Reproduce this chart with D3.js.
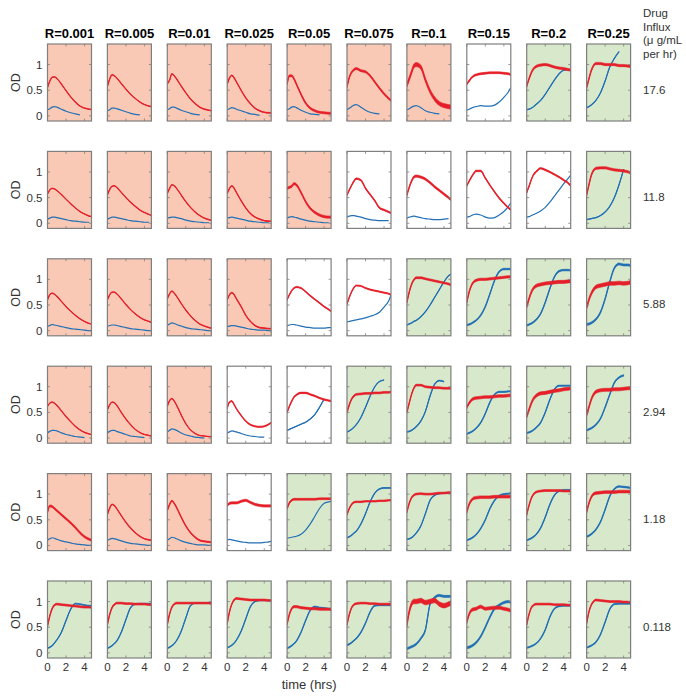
<!DOCTYPE html>
<html>
<head>
<meta charset="utf-8">
<script src="https://cdn.jsdelivr.net/npm/d3@7"></script>
<style>
  html, body { margin: 0; padding: 0; background: #fff; }
  svg { display: block; font-family: "Liberation Sans", Arial, sans-serif; }
</style>
</head>
<body>
<svg id="chart" width="686" height="696"></svg>
<script>
// ---------------- DATA ----------------
const rateLabels = ["R=0.001","R=0.005","R=0.01","R=0.025","R=0.05","R=0.075","R=0.1","R=0.15","R=0.2","R=0.25"];
const influxLabels = ["17.6","11.8","5.88","2.94","1.18","0.118"];
const influxTitle = ["Drug","Influx","(\u03bc g/mL","per hr)"];
const xTicks = [0, 2, 4];
const yTicks = [0, 0.5, 1];
const yTickLabels = ["0", "0.5", "1"];
const times = [0, 0.25, 0.5, 0.75, 1, 1.5, 2, 2.5, 3, 3.5, 4, 4.5, 4.75];
// outcome per panel: r = red shade, w = none, g = green shade
const outcome = ["rrrrrrrwgg", "rrrrrwwwwg", "rrrrwwgggg", "rrrwwggggg", "rrrwgggggg", "gggggggggg"];

const redOD = [
 [ // 17.6
  [0.55,0.68,0.75,0.76,0.73,0.62,0.49,0.37,0.27,0.19,0.15,0.13,0.12],
  [0.57,0.72,0.80,0.78,0.74,0.63,0.52,0.42,0.34,0.27,0.22,0.19,0.18],
  [0.62,0.70,0.82,0.78,0.72,0.58,0.45,0.33,0.24,0.17,0.13,0.11,0.10],
  [0.62,0.74,0.79,0.74,0.66,0.50,0.35,0.24,0.15,0.10,0.07,0.06,0.06],
  [0.62,0.78,0.78,0.72,0.62,0.42,0.25,0.15,0.10,0.07,0.06,0.05,0.05],
  [0.57,0.75,0.85,0.90,0.92,0.88,0.86,0.78,0.66,0.54,0.43,0.34,0.30],
  [0.60,0.72,0.85,0.97,1.00,0.95,0.70,0.48,0.33,0.24,0.20,0.18,0.17],
  [0.62,0.68,0.74,0.78,0.80,0.82,0.83,0.84,0.84,0.84,0.83,0.82,0.80],
  [0.58,0.72,0.84,0.92,0.96,0.99,1.00,0.98,0.95,0.93,0.92,0.90,0.89],
  [0.55,0.72,0.88,0.98,1.02,1.02,1.00,1.00,1.00,0.98,0.98,0.97,0.96]
 ],
 [ // 11.8
  [0.57,0.65,0.68,0.67,0.64,0.56,0.47,0.38,0.30,0.23,0.18,0.14,0.13],
  [0.55,0.66,0.72,0.73,0.70,0.60,0.50,0.41,0.33,0.26,0.21,0.17,0.15],
  [0.58,0.68,0.75,0.73,0.68,0.55,0.42,0.31,0.22,0.15,0.10,0.07,0.06],
  [0.58,0.68,0.73,0.68,0.60,0.44,0.30,0.19,0.12,0.08,0.05,0.04,0.04],
  [0.68,0.70,0.72,0.77,0.75,0.60,0.42,0.29,0.21,0.16,0.13,0.12,0.12],
  [0.55,0.65,0.74,0.82,0.87,0.84,0.68,0.56,0.44,0.30,0.26,0.22,0.20],
  [0.55,0.70,0.82,0.90,0.92,0.90,0.86,0.79,0.71,0.64,0.57,0.50,0.46],
  [0.73,0.82,0.90,0.97,1.02,1.02,0.88,0.74,0.61,0.49,0.39,0.30,0.26],
  [0.60,0.72,0.85,0.95,1.00,1.07,1.04,1.00,0.95,0.90,0.84,0.78,0.73],
  [0.55,0.75,0.93,1.03,1.07,1.08,1.08,1.06,1.04,1.03,1.02,1.00,0.98]
 ],
 [ // 5.88
  [0.60,0.70,0.73,0.71,0.67,0.57,0.47,0.38,0.30,0.23,0.18,0.14,0.13],
  [0.60,0.70,0.75,0.75,0.72,0.62,0.51,0.41,0.33,0.26,0.21,0.18,0.16],
  [0.62,0.72,0.77,0.73,0.67,0.53,0.40,0.29,0.20,0.13,0.09,0.06,0.05],
  [0.60,0.70,0.74,0.70,0.62,0.47,0.30,0.18,0.10,0.06,0.05,0.04,0.04],
  [0.60,0.70,0.78,0.83,0.85,0.83,0.76,0.68,0.61,0.54,0.47,0.41,0.38],
  [0.52,0.65,0.76,0.84,0.88,0.87,0.83,0.80,0.78,0.76,0.74,0.72,0.70],
  [0.55,0.75,0.90,0.99,1.03,1.03,1.01,0.99,0.97,0.95,0.93,0.91,0.89],
  [0.55,0.75,0.88,0.95,0.98,1.00,1.00,1.01,1.02,1.03,1.04,1.05,1.05],
  [0.47,0.62,0.75,0.83,0.87,0.90,0.92,0.93,0.94,0.95,0.95,0.96,0.96],
  [0.45,0.60,0.72,0.80,0.85,0.88,0.90,0.92,0.92,0.93,0.92,0.93,0.94]
 ],
 [ // 2.94
  [0.62,0.68,0.70,0.68,0.64,0.53,0.42,0.32,0.23,0.16,0.11,0.08,0.07],
  [0.55,0.65,0.70,0.69,0.64,0.50,0.37,0.26,0.17,0.11,0.07,0.05,0.04],
  [0.62,0.73,0.77,0.72,0.64,0.45,0.28,0.16,0.09,0.05,0.04,0.03,0.03],
  [0.58,0.70,0.72,0.65,0.57,0.44,0.33,0.26,0.23,0.22,0.23,0.27,0.30],
  [0.50,0.62,0.72,0.80,0.84,0.88,0.88,0.85,0.82,0.78,0.75,0.73,0.72],
  [0.50,0.65,0.76,0.82,0.85,0.86,0.87,0.87,0.88,0.88,0.89,0.89,0.90],
  [0.50,0.68,0.85,0.97,1.03,1.03,1.00,0.99,0.98,0.98,0.97,0.97,0.97],
  [0.60,0.68,0.74,0.77,0.78,0.79,0.80,0.80,0.81,0.82,0.82,0.83,0.83],
  [0.42,0.55,0.68,0.77,0.82,0.87,0.88,0.90,0.92,0.93,0.95,0.96,0.97],
  [0.45,0.60,0.75,0.85,0.90,0.93,0.94,0.94,0.95,0.95,0.96,0.97,0.97]
 ],
 [ // 1.18
  [0.65,0.77,0.76,0.72,0.68,0.60,0.52,0.44,0.35,0.25,0.17,0.12,0.10],
  [0.60,0.73,0.80,0.78,0.72,0.58,0.45,0.34,0.25,0.18,0.13,0.11,0.10],
  [0.68,0.80,0.87,0.82,0.74,0.55,0.38,0.25,0.16,0.10,0.08,0.07,0.06],
  [0.78,0.82,0.83,0.83,0.83,0.86,0.88,0.84,0.80,0.78,0.77,0.77,0.77],
  [0.72,0.83,0.88,0.90,0.90,0.90,0.90,0.90,0.90,0.91,0.91,0.91,0.91],
  [0.60,0.72,0.80,0.84,0.85,0.85,0.86,0.86,0.86,0.87,0.87,0.88,0.88],
  [0.65,0.82,0.93,0.98,1.00,1.01,1.00,1.00,1.01,1.02,1.02,1.03,1.03],
  [0.65,0.80,0.88,0.92,0.93,0.94,0.94,0.94,0.95,0.95,0.95,0.95,0.95],
  [0.60,0.78,0.92,1.00,1.04,1.06,1.07,1.07,1.07,1.07,1.06,1.06,1.06],
  [0.65,0.82,0.94,1.00,1.02,1.03,1.04,1.04,1.04,1.05,1.05,1.05,1.05]
 ],
 [ // 0.118
  [0.52,0.72,0.86,0.93,0.95,0.94,0.93,0.92,0.91,0.90,0.89,0.89,0.88],
  [0.55,0.75,0.88,0.94,0.97,0.97,0.96,0.96,0.95,0.95,0.95,0.94,0.94],
  [0.55,0.76,0.89,0.95,0.97,0.97,0.97,0.97,0.97,0.97,0.97,0.97,0.96],
  [0.57,0.80,0.95,1.03,1.06,1.05,1.04,1.03,1.03,1.03,1.03,1.02,1.02],
  [0.56,0.75,0.86,0.90,0.90,0.88,0.87,0.86,0.86,0.85,0.85,0.85,0.84],
  [0.55,0.75,0.88,0.94,0.96,0.97,0.97,0.96,0.96,0.95,0.95,0.95,0.95],
  [0.55,0.80,0.95,1.00,1.00,1.02,0.98,1.00,1.02,0.95,0.92,0.95,0.97],
  [0.60,0.75,0.83,0.85,0.86,0.90,0.86,0.87,0.88,0.88,0.86,0.84,0.82],
  [0.55,0.75,0.88,0.93,0.95,0.95,0.95,0.95,0.94,0.94,0.94,0.93,0.93],
  [0.57,0.80,0.93,1.00,1.03,1.02,1.01,1.00,1.00,1.00,0.99,0.99,0.99]
 ]
];

const blueOD = [
 [ // 17.6
  [0.12,0.14,0.17,0.18,0.17,0.13,0.09,0.06,0.04,0.02,null,null,null],
  [0.10,0.12,0.15,0.15,0.14,0.11,0.08,0.05,0.03,0.02,null,null,null],
  [0.12,0.14,0.17,0.17,0.15,0.11,0.08,0.05,0.03,0.02,null,null,null],
  [0.12,0.14,0.16,0.15,0.13,0.10,0.07,0.04,0.03,0.01,null,null,null],
  [0.12,0.14,0.17,0.18,0.16,0.11,0.07,0.04,0.03,0.02,null,null,null],
  [0.12,0.15,0.18,0.21,0.22,0.17,0.11,0.07,0.05,0.04,null,null,null],
  [0.12,0.14,0.17,0.19,0.20,0.16,0.10,0.07,0.05,0.04,null,null,null],
  [0.11,0.13,0.15,0.17,0.18,0.20,0.19,0.19,0.21,0.27,0.36,0.47,0.55],
  [0.12,0.13,0.15,0.18,0.22,0.30,0.42,0.56,0.70,0.82,0.89,0.90,0.89],
  [0.16,0.18,0.21,0.25,0.30,0.45,0.68,0.95,1.12,1.25,null,null,null]
 ],
 [ // 11.8
  [0.08,0.10,0.12,0.12,0.11,0.09,0.07,0.05,0.04,0.03,0.02,0.02,null],
  [0.08,0.10,0.12,0.12,0.11,0.09,0.07,0.05,0.04,0.03,0.02,0.02,null],
  [0.10,0.11,0.12,0.12,0.11,0.09,0.06,0.04,0.03,0.02,0.01,0.01,null],
  [0.10,0.11,0.12,0.11,0.10,0.08,0.06,0.04,0.03,0.02,0.01,0.01,null],
  [0.10,0.12,0.13,0.12,0.11,0.08,0.06,0.04,0.03,0.02,0.01,0.01,null],
  [0.12,0.14,0.15,0.15,0.14,0.12,0.09,0.07,0.06,0.05,0.05,0.05,null],
  [0.10,0.12,0.13,0.14,0.13,0.11,0.09,0.08,0.07,0.07,0.08,0.09,null],
  [0.12,0.13,0.15,0.17,0.18,0.16,0.12,0.10,0.11,0.16,0.23,0.33,0.40],
  [0.12,0.13,0.15,0.17,0.19,0.24,0.31,0.41,0.53,0.65,0.77,0.88,0.94],
  [0.07,0.08,0.09,0.10,0.11,0.15,0.22,0.33,0.50,0.75,1.05,null,null]
 ],
 [ // 5.88
  [0.08,0.10,0.12,0.11,0.10,0.08,0.06,0.04,0.03,0.02,0.01,0.00,0.00],
  [0.08,0.10,0.11,0.11,0.10,0.08,0.06,0.04,0.03,0.02,0.01,0.00,0.00],
  [0.10,0.13,0.15,0.14,0.12,0.09,0.06,0.04,0.03,0.02,0.01,0.00,0.00],
  [0.08,0.09,0.10,0.10,0.09,0.07,0.05,0.03,0.02,0.01,0.01,0.00,0.00],
  [0.09,0.11,0.12,0.12,0.11,0.09,0.07,0.06,0.05,0.05,0.05,0.06,0.06],
  [0.17,0.18,0.19,0.20,0.21,0.23,0.25,0.28,0.31,0.36,0.46,0.58,0.69],
  [0.11,0.13,0.15,0.18,0.20,0.27,0.37,0.50,0.65,0.80,0.95,1.07,1.10],
  [0.11,0.12,0.14,0.17,0.20,0.30,0.47,0.72,0.98,1.15,1.20,1.20,1.20],
  [0.10,0.12,0.14,0.17,0.21,0.33,0.55,0.82,1.05,1.16,1.18,1.18,1.17],
  [0.12,0.13,0.15,0.18,0.22,0.36,0.62,0.95,1.22,1.30,1.28,1.28,1.26]
 ],
 [ // 2.94
  [0.10,0.13,0.15,0.15,0.14,0.10,0.07,0.05,0.03,0.02,0.01,null,null],
  [0.10,0.13,0.15,0.15,0.13,0.10,0.07,0.04,0.03,0.02,0.01,null,null],
  [0.12,0.15,0.18,0.17,0.15,0.10,0.06,0.04,0.02,0.01,0.00,null,null],
  [0.10,0.12,0.14,0.13,0.12,0.09,0.06,0.04,0.03,0.02,0.02,null,null],
  [0.15,0.17,0.19,0.21,0.23,0.27,0.31,0.37,0.46,0.60,0.76,null,null],
  [0.12,0.14,0.17,0.21,0.26,0.40,0.60,0.82,1.00,1.10,1.13,null,null],
  [0.12,0.13,0.15,0.18,0.22,0.33,0.52,0.82,1.05,1.12,1.10,null,null],
  [0.08,0.10,0.12,0.15,0.19,0.30,0.48,0.70,0.85,0.90,0.90,0.91,0.91],
  [0.10,0.11,0.13,0.16,0.20,0.30,0.50,0.75,0.95,1.02,1.02,1.02,1.02],
  [0.15,0.17,0.19,0.22,0.26,0.38,0.60,0.85,1.08,1.18,1.22,null,null]
 ],
 [ // 1.18
  [0.10,0.13,0.15,0.14,0.12,0.09,0.07,0.05,0.03,0.02,0.01,0.00,0.00],
  [0.10,0.12,0.14,0.13,0.12,0.09,0.06,0.04,0.03,0.02,0.01,0.00,0.00],
  [0.10,0.13,0.16,0.15,0.13,0.09,0.06,0.04,0.02,0.01,0.01,0.00,0.00],
  [0.11,0.12,0.11,0.10,0.09,0.07,0.06,0.05,0.05,0.05,0.06,0.07,0.08],
  [0.14,0.15,0.16,0.17,0.18,0.22,0.30,0.42,0.57,0.72,0.82,0.85,0.86],
  [0.15,0.17,0.20,0.24,0.28,0.42,0.62,0.85,1.02,1.10,1.12,1.12,1.12],
  [0.12,0.13,0.15,0.19,0.24,0.38,0.62,0.88,0.98,1.01,1.02,1.03,1.03],
  [0.10,0.12,0.14,0.17,0.21,0.33,0.50,0.72,0.88,0.97,1.00,1.01,1.02],
  [0.10,0.12,0.14,0.17,0.21,0.34,0.55,0.80,0.98,1.06,1.08,1.08,1.08],
  [0.17,0.19,0.22,0.26,0.31,0.46,0.70,0.96,1.10,1.15,1.14,1.13,1.12]
 ],
 [ // 0.118
  [0.09,0.11,0.14,0.19,0.25,0.40,0.63,0.85,0.96,0.95,0.93,0.92,0.92],
  [0.09,0.11,0.14,0.18,0.23,0.40,0.65,0.88,0.95,0.96,0.96,0.96,0.96],
  [0.09,0.11,0.14,0.18,0.24,0.42,0.68,0.92,0.97,0.97,0.97,0.97,0.97],
  [0.10,0.12,0.15,0.19,0.25,0.42,0.66,0.90,1.00,1.02,1.02,1.02,1.02],
  [0.09,0.11,0.14,0.18,0.23,0.40,0.63,0.83,0.90,0.88,0.87,0.86,0.86],
  [0.15,0.17,0.20,0.24,0.28,0.40,0.58,0.80,0.92,0.93,0.93,0.93,0.93],
  [0.08,0.10,0.12,0.14,0.17,0.28,0.45,0.95,1.08,1.12,1.10,1.10,1.10],
  [0.10,0.11,0.13,0.16,0.20,0.32,0.50,0.70,0.86,0.93,0.98,1.00,0.98],
  [0.10,0.11,0.13,0.15,0.18,0.28,0.45,0.70,0.86,0.91,0.92,0.92,0.92],
  [0.10,0.12,0.14,0.17,0.21,0.36,0.60,0.85,0.95,0.96,0.96,0.96,0.96]
 ]
];

// measurement noise half-width (OD) seen in each trace
const redNoise = [
  [0.004,0.004,0.006,0.008,0.02,0.02,0.04,0.018,0.022,0.022],
  [0.004,0.004,0.004,0.006,0.022,0.015,0.022,0.015,0.015,0.022],
  [0.004,0.004,0.006,0.008,0.012,0.012,0.018,0.022,0.03,0.035],
  [0.004,0.004,0.004,0.012,0.015,0.018,0.018,0.026,0.03,0.03],
  [0.02,0.006,0.012,0.022,0.018,0.015,0.018,0.026,0.018,0.026],
  [0.018,0.018,0.018,0.018,0.022,0.018,0.045,0.03,0.018,0.018]
];
const blueNoise = [
  [0,0,0,0,0,0,0,0,0.004,0.004],
  [0,0,0,0,0,0,0,0,0,0.004],
  [0,0,0,0,0,0,0.006,0.015,0.015,0.02],
  [0,0,0,0,0.004,0.004,0.008,0.012,0.012,0.015],
  [0,0,0,0,0,0.008,0.008,0.012,0.012,0.015],
  [0.008,0.008,0.008,0.008,0.012,0.012,0.02,0.022,0.012,0.012]
];

// ---------------- LAYOUT / STYLE ----------------
const svg = d3.select("#chart");
const panelW = 44, panelH = 77;
const colX = d3.scaleLinear().domain([0, 9]).range([47.5, 586.6]);
const rowY = d3.scaleLinear().domain([0, 5]).range([44, 581]);
const x = d3.scaleLinear().domain([0, 4.75]).range([0, panelW]);
const y = d3.scaleLinear().domain([-0.1, 1.4]).range([panelH, 0]);
const bgColor = { r: "#f9c9b6", w: "#ffffff", g: "#d8e8cb" };
const redColor = "#e5202a", blueColor = "#2270b5";
const frameColor = "#7f7f7f";
const textColor = "#333333";

const lineGen = d3.line()
  .defined(d => d.v !== null)
  .x(d => x(d.t)).y(d => y(d.v))
  .curve(d3.curveMonotoneX);
const bandGen = d3.area()
  .defined(d => d.v !== null)
  .x(d => x(d.t)).y0(d => y(d.v - d.n)).y1(d => y(d.v + d.n))
  .curve(d3.curveMonotoneX);

const defs = svg.append("defs");
defs.append("clipPath").attr("id", "pclip")
  .append("rect").attr("width", panelW).attr("height", panelH);

influxLabels.forEach((inf, r) => {
  rateLabels.forEach((rate, c) => {
    const g = svg.append("g").attr("transform", `translate(${colX(c)},${rowY(r)})`);
    g.append("rect").attr("width", panelW).attr("height", panelH)
      .attr("fill", bgColor[outcome[r][c]]);

    const plot = g.append("g").attr("clip-path", "url(#pclip)");
    const series = [
      { vals: blueOD[r][c], n: blueNoise[r][c], color: blueColor },
      { vals: redOD[r][c], n: redNoise[r][c], color: redColor }
    ];
    series.forEach(s => {
      const pts = times.map((t, i) => ({ t, v: s.vals[i], n: s.n }));
      if (s.n > 0) {
        plot.append("path").attr("d", bandGen(pts))
          .attr("fill", s.color).attr("stroke", s.color).attr("stroke-width", 0.6);
      }
      plot.append("path").attr("d", lineGen(pts))
        .attr("fill", "none").attr("stroke", s.color).attr("stroke-width", 1.2);
    });

    // inner ticks (matlab style box ticks)
    const tk = g.append("g").attr("stroke", frameColor).attr("stroke-width", 0.8);
    xTicks.forEach(t => {
      tk.append("line").attr("x1", x(t)).attr("x2", x(t)).attr("y1", panelH).attr("y2", panelH - 2.5);
      tk.append("line").attr("x1", x(t)).attr("x2", x(t)).attr("y1", 0).attr("y2", 2.5);
    });
    yTicks.forEach(v => {
      tk.append("line").attr("x1", 0).attr("x2", 2.5).attr("y1", y(v)).attr("y2", y(v));
      tk.append("line").attr("x1", panelW).attr("x2", panelW - 2.5).attr("y1", y(v)).attr("y2", y(v));
    });
    g.append("rect").attr("width", panelW).attr("height", panelH)
      .attr("fill", "none").attr("stroke", frameColor).attr("stroke-width", 1.2);

    if (c === 0) {
      yTicks.forEach((v, i) => {
        g.append("text").attr("x", -5).attr("y", y(v)).attr("dy", "0.35em")
          .attr("text-anchor", "end").attr("font-size", 11.5).attr("fill", textColor)
          .text(yTickLabels[i]);
      });
      g.append("text")
        .attr("transform", `translate(${20 - colX(0)},${panelH / 2}) rotate(-90)`)
        .attr("text-anchor", "middle").attr("font-size", 12.5).attr("fill", textColor)
        .text("OD");
    }
    if (r === influxLabels.length - 1) {
      xTicks.forEach(t => {
        g.append("text").attr("x", x(t)).attr("y", panelH + 13)
          .attr("text-anchor", "middle").attr("font-size", 11.5).attr("fill", textColor)
          .text(t);
      });
    }
    if (r === 0) {
      g.append("text").attr("x", panelW / 2).attr("y", -6)
        .attr("text-anchor", "middle").attr("font-size", 13).attr("font-weight", "bold")
        .attr("fill", "#000").text(rate);
    }
  });
  svg.append("text").attr("x", 643).attr("y", rowY(r) + 49.5)
    .attr("font-size", 11.5).attr("fill", textColor).text(inf);
});

influxTitle.forEach((s, i) => {
  svg.append("text").attr("x", 643).attr("y", 17 + i * 13.6)
    .attr("font-size", 11.5).attr("fill", textColor).text(s);
});

svg.append("text").attr("x", colX(4) + panelW / 2).attr("y", 689)
  .attr("text-anchor", "middle").attr("font-size", 13).attr("fill", textColor)
  .text("time (hrs)");
</script>
</body>
</html>
